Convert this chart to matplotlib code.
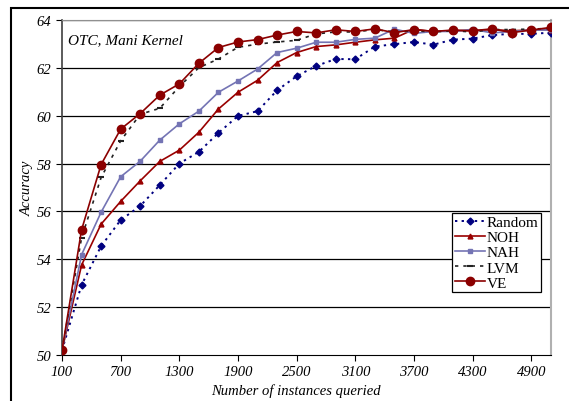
import numpy as np
import matplotlib
matplotlib.use("Agg")
import matplotlib.pyplot as plt
from matplotlib.patches import Rectangle

# --- data ---
queried = list(range(100, 5101, 200))

random_acc = [50.2, 52.93, 54.55, 55.64, 56.23, 57.1, 58.0, 58.49, 59.28, 59.99,
              60.19, 61.06, 61.65, 62.08, 62.37, 62.36, 62.89, 62.99, 63.08, 62.97,
              63.18, 63.22, 63.37, 63.42, 63.42, 63.47]
noh_acc = [50.2, 53.76, 55.47, 56.42, 57.28, 58.09, 58.56, 59.31, 60.28, 60.98,
           61.48, 62.22, 62.64, 62.89, 62.96, 63.07, 63.17, 63.24, 63.61, 63.52,
           63.55, 63.55, 63.6, 63.55, 63.58, 63.6]
nah_acc = [50.2, 54.19, 55.97, 57.45, 58.1, 58.98, 59.66, 60.19, 60.98, 61.45,
           61.95, 62.64, 62.82, 63.07, 63.07, 63.19, 63.24, 63.62, 63.44, 63.52,
           63.52, 63.61, 63.46, 63.52, 63.58, 63.58]
lvm_acc = [50.2, 54.9, 57.42, 58.95, 60.06, 60.31, 61.22, 62.01, 62.37, 62.86,
           62.99, 63.08, 63.15, 63.42, 63.5, 63.5, 63.6, 63.5, 63.55, 63.5,
           63.55, 63.5, 63.6, 63.6, 63.62, 63.65]
ve_acc = [50.2, 55.23, 57.96, 59.44, 60.09, 60.86, 61.33, 62.19, 62.85, 63.08,
          63.18, 63.37, 63.52, 63.46, 63.59, 63.52, 63.63, 63.47, 63.6, 63.52,
          63.58, 63.55, 63.63, 63.47, 63.58, 63.69]

xticks = list(range(100, 5000, 600))
yticks = list(range(50, 65, 2))

plt.rcParams["font.family"] = ["Liberation Serif", "DejaVu Serif"]

fig = plt.figure(figsize=(5.69, 4.02), dpi=100)
ax = fig.add_axes([0.109, 0.1144, 0.859, 0.8334])

# outer frame that runs off the right and bottom edges
fig.patches.append(Rectangle((11 / 569, -0.2), 1.2, 0.2 + 1 - 9 / 402,
                             transform=fig.transFigure, fill=False,
                             edgecolor="black", lw=1.5))

for v in yticks[1:]:
    ax.axhline(v, color="black", lw=0.9, zorder=1)

ax.plot(queried, random_acc, color="#000080", ls=(0, (1.2, 2.2)), lw=1.4,
        marker="D", ms=3.5, label="Random", zorder=3)
ax.plot(queried, noh_acc, color="#990000", lw=1.2, marker="^", ms=3.5,
        label="NOH", zorder=3)
ax.plot(queried, nah_acc, color="#7474b4", lw=1.2, marker="s", ms=3.2,
        label="NAH", zorder=3)
ax.plot(queried, lvm_acc, color="#222222", ls=(0, (2, 3)), lw=1.2,
        marker="_", ms=5, mew=1.5, label="LVM", zorder=3)
ax.plot(queried, ve_acc, color="#8b0000", lw=1.2, marker="o", ms=6,
        label="VE", zorder=4)

ax.set_xlim(100, 5100)
ax.set_ylim(50, 64)
ax.set_xticks(xticks)
ax.set_yticks(yticks)
ax.tick_params(direction="out", length=4, labelsize=10.5)
for lab in ax.get_xticklabels() + ax.get_yticklabels():
    lab.set_fontstyle("italic")

ax.set_xlabel("Number of instances queried", fontsize=10.5, fontstyle="italic",
              labelpad=1)
ax.xaxis.set_label_coords(0.478, -0.085)
ax.set_ylabel("Accuracy", fontsize=10.5, fontstyle="italic", labelpad=2)

ax.spines["top"].set_color("#909090")
ax.spines["right"].set_color("#b0b0b0")
ax.spines["right"].set_linewidth(1.5)
ax.spines["left"].set_color("#404040")
ax.spines["left"].set_linewidth(1.2)

ax.text(0.013, 0.94, "OTC, Mani Kernel", transform=ax.transAxes,
        fontsize=11, fontstyle="italic", va="center")

leg = ax.legend(loc="upper right", bbox_to_anchor=(0.9796, 0.424),
                fontsize=11, handlelength=2.0, handletextpad=0.1,
                borderpad=0.15, labelspacing=0.1, borderaxespad=0,
                fancybox=False, framealpha=1, edgecolor="black")
leg.get_frame().set_linewidth(0.9)

fig.savefig("out.png", dpi=100)
